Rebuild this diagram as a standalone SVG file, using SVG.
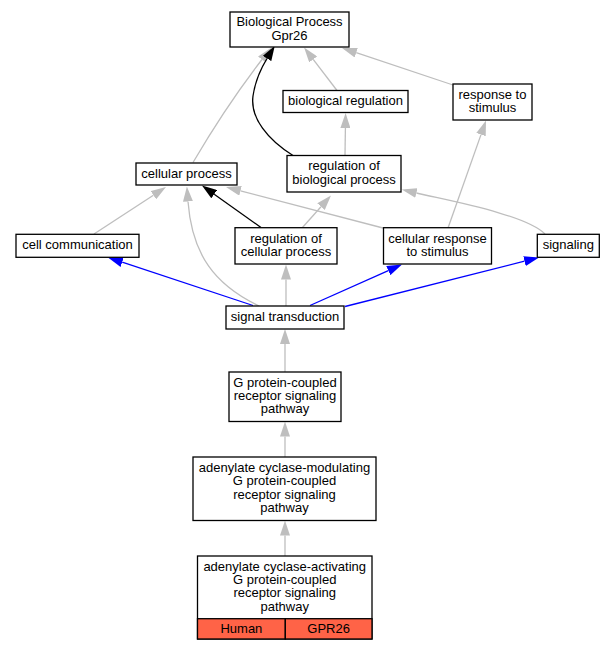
<svg xmlns="http://www.w3.org/2000/svg" width="613" height="651" viewBox="0 0 613 651">
<style>
.n rect{fill:#fff;stroke:#000;stroke-width:1.3}
.n rect.r{fill:#ff6347}
text{font-family:"Liberation Sans",Arial,sans-serif;font-size:13px;text-anchor:middle;fill:#000}
.e path{fill:none;stroke-width:1.3}
.g{stroke:#bebebe;marker-end:url(#ag)}
.k{stroke:#000;marker-end:url(#ak)}
.b{stroke:#0000ff;marker-end:url(#ab)}
</style>
<defs>
<marker id="ag" markerUnits="userSpaceOnUse" viewBox="0 -5 15 10" refX="0" refY="0" markerWidth="15" markerHeight="10" orient="auto"><path d="M0,-5L15,0L0,5z" fill="#bebebe"/></marker>
<marker id="ak" markerUnits="userSpaceOnUse" viewBox="0 -5 15 10" refX="0" refY="0" markerWidth="15" markerHeight="10" orient="auto"><path d="M0,-5L15,0L0,5z" fill="#000"/></marker>
<marker id="ab" markerUnits="userSpaceOnUse" viewBox="0 -5 15 10" refX="0" refY="0" markerWidth="15" markerHeight="10" orient="auto"><path d="M0,-5L15,0L0,5z" fill="#0000ff"/></marker>
</defs>
<rect width="613" height="651" fill="#fff"/>
<g class="e" id="edges">
<path class="g" d="M337,90.5L313.2,59.4"/>
<path class="g" d="M453,85L356.2,52.7"/>
<path class="g" d="M345,155.5L345.4,128"/>
<path class="g" d="M448,228L481,134.6"/>
<path class="g" d="M94,234L153.4,195.2"/>
<path class="g" d="M383,228L240.5,190.8"/>
<path class="g" d="M545,234C525,214 445,200 416.4,193"/>
<path class="g" d="M302,228L321,206.7"/>
<path class="g" d="M259,306C215,285 192,255 188,201.5"/>
<path class="g" d="M286,306L286,279.5"/>
<path class="g" d="M285,372L285,344"/>
<path class="g" d="M285,457L285,436.5"/>
<path class="g" d="M285,556L285,535.5"/>
<path class="g" d="M193,162.5C215,125 240,88 262,59.5"/>
<path class="k" d="M261,227.5L214.2,194.2"/>
<path class="k" d="M293,155.5C268,140 250,118 253,96C255,82 260,70 267,58.5"/>
<path class="b" d="M253,305.5L122.2,262.2"/>
<path class="b" d="M310,305.5L388.3,270.6"/>
<path class="b" d="M345,306.5L524.5,261.2"/>
</g>
<g class="n" id="bp"><rect x="230" y="12" width="119" height="35"/><text x="289.5" y="26.3">Biological Process</text><text x="289.5" y="39.6">Gpr26</text></g>
<g class="n" id="bioreg"><rect x="283" y="90.5" width="125" height="22"/><text x="345.5" y="105">biological regulation</text></g>
<g class="n" id="resp"><rect x="453" y="84" width="79" height="36"/><text x="492.5" y="98.6">response to</text><text x="492.5" y="112">stimulus</text></g>
<g class="n" id="cellproc"><rect x="136" y="163" width="101" height="22"/><text x="186.5" y="177.5">cellular process</text></g>
<g class="n" id="regbio"><rect x="287" y="155.5" width="114" height="36.5"/><text x="344" y="170.4">regulation of</text><text x="344" y="183.8">biological process</text></g>
<g class="n" id="cellcomm"><rect x="16" y="234.3" width="123" height="23"/><text x="77.5" y="249.3">cell communication</text></g>
<g class="n" id="regcell"><rect x="235" y="227.7" width="102" height="36.3"/><text x="286" y="242.5">regulation of</text><text x="286" y="255.9">cellular process</text></g>
<g class="n" id="cellresp"><rect x="383.5" y="227.7" width="108" height="36.3"/><text x="437.5" y="242.5">cellular response</text><text x="437.5" y="255.9">to stimulus</text></g>
<g class="n" id="signaling"><rect x="537.3" y="234.3" width="62" height="23"/><text x="568.3" y="249.3">signaling</text></g>
<g class="n" id="sigtrans"><rect x="226" y="306" width="118" height="23"/><text x="285" y="321">signal transduction</text></g>
<g class="n" id="gpcr"><rect x="229" y="372" width="112" height="49.5"/><text x="285" y="386.7">G protein-coupled</text><text x="285" y="400">receptor signaling</text><text x="285" y="413.4">pathway</text></g>
<g class="n" id="acmod"><rect x="193" y="457" width="183" height="63.5"/><text x="284.5" y="472">adenylate cyclase-modulating</text><text x="284.5" y="485.4">G protein-coupled</text><text x="284.5" y="498.8">receptor signaling</text><text x="284.5" y="512.2">pathway</text></g>
<g class="n" id="acact"><rect x="197.5" y="556" width="174.5" height="83"/><text x="284.7" y="570.6">adenylate cyclase-activating</text><text x="284.7" y="584">G protein-coupled</text><text x="284.7" y="597.4">receptor signaling</text><text x="284.7" y="610.8">pathway</text><rect class="r" x="197.5" y="618.7" width="87.8" height="20.3"/><rect class="r" x="285.3" y="618.7" width="86.7" height="20.3"/><text x="241.4" y="632.8">Human</text><text x="328.6" y="632.8">GPR26</text></g>
</svg>
